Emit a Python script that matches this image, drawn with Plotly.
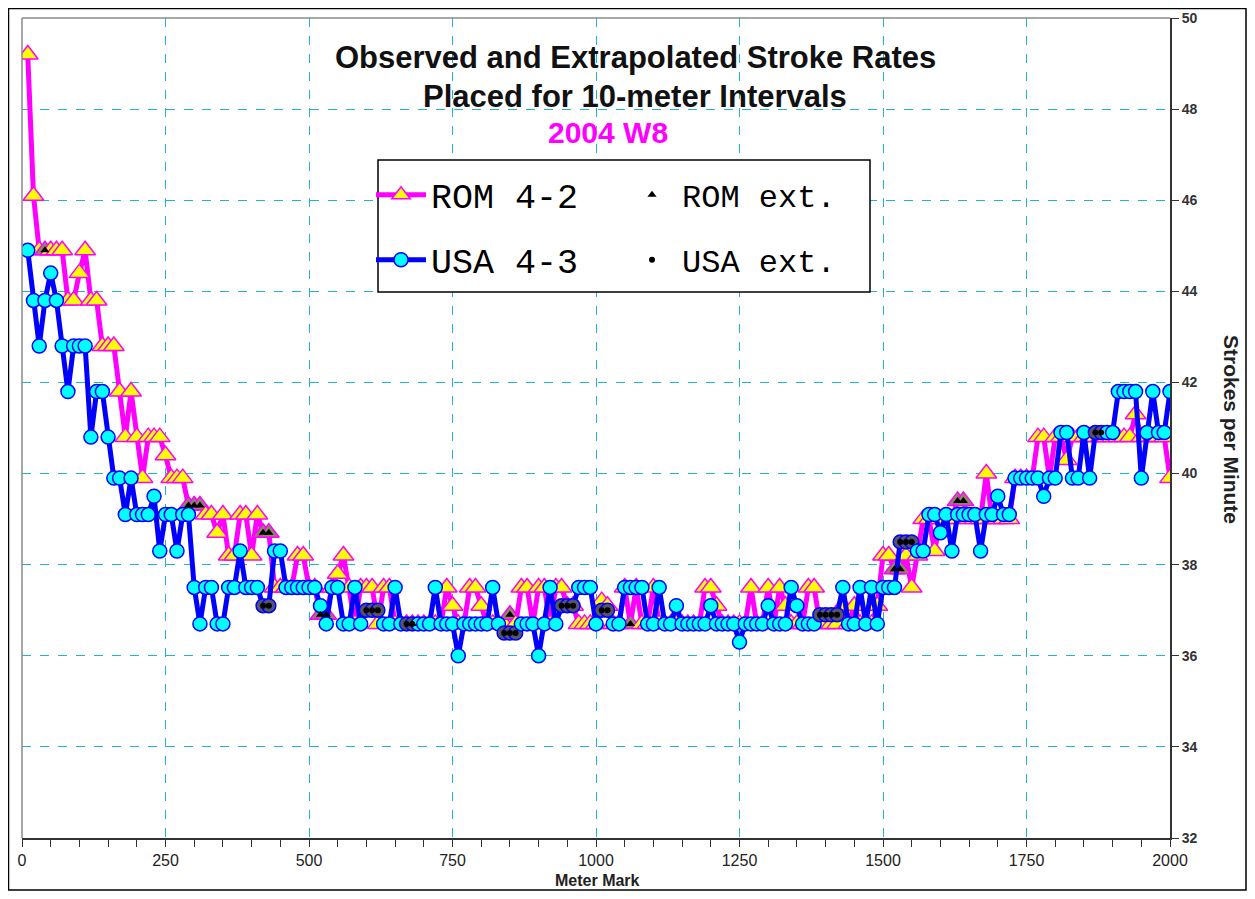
import plotly.graph_objects as go

# ---------------- data ----------------
meters = list(range(10, 2001, 10))

rom = [
    49.2, 46.1, 44.9, 44.9, 44.9, 44.9, 44.9, 43.8, 43.8, 44.4,
    44.9, 43.8, 43.8, 42.8, 42.8, 42.8, 41.8, 40.8, 41.8, 40.8,
    39.9, 40.8, 40.8, 40.8, 40.4, 39.9, 39.9, 39.9, 39.3, 39.3,
    39.3, 39.1, 39.1, 38.7, 39.1, 38.2, 38.2, 39.1, 39.1, 38.2,
    39.1, 38.7, 38.7, 37.5, 37.5, 37.5, 37.5, 38.2, 38.2, 37.5,
    37.5, 36.9, 36.9, 37.5, 37.8, 38.2, 37.5, 36.7, 37.5, 37.5,
    37.5, 36.7, 37.5, 37.5, 36.7, 36.7, 36.7, 36.7, 36.7, 36.7,
    36.7, 36.7, 36.7, 37.5, 37.1, 36.7, 36.7, 37.5, 37.5, 37.1,
    36.7, 36.7, 36.7, 36.7, 36.9, 36.7, 37.5, 37.5, 36.7, 37.5,
    37.5, 36.7, 37.5, 37.5, 37.1, 37.1, 36.7, 36.7, 36.7, 36.7,
    37.2, 37.1, 36.7, 36.7, 37.5, 36.7, 37.5, 36.7, 36.7, 37.5,
    36.7, 36.7, 36.7, 36.7, 36.7, 36.7, 36.7, 36.7, 37.5, 37.5,
    37.1, 36.7, 36.7, 36.7, 36.7, 36.7, 37.5, 36.7, 36.7, 37.5,
    36.7, 37.5, 37.1, 36.7, 36.7, 36.7, 37.5, 37.5, 36.7, 36.7,
    36.7, 36.7, 37.1, 36.7, 37.1, 36.7, 36.7, 36.7, 37.1, 38.2,
    38.2, 37.9, 37.9, 38.2, 37.5, 38.2, 39.0, 39.0, 38.3, 39.0,
    39.0, 39.0, 39.4, 39.4, 39.0, 39.0, 39.0, 40.0, 39.0, 39.0,
    39.0, 39.0, 39.9, 39.9, 39.9, 39.9, 40.8, 40.8, 39.9, 40.8,
    40.8, 40.3, 40.8, 40.8, 40.8, 40.8, 40.8, 40.8, 40.8, 40.8,
    40.8, 40.8, 40.8, 41.3, 40.8, 40.8, 40.8, 40.8, 40.8, 39.9,
]

usa = [
    44.9, 43.8, 42.8, 43.8, 44.4, 43.8, 42.8, 41.8, 42.8, 42.8,
    42.8, 40.8, 41.8, 41.8, 40.8, 39.9, 39.9, 39.1, 39.9, 39.1,
    39.1, 39.1, 39.5, 38.3, 39.1, 39.1, 38.3, 39.1, 39.1, 37.5,
    36.7, 37.5, 37.5, 36.7, 36.7, 37.5, 37.5, 38.3, 37.5, 37.5,
    37.5, 37.1, 37.1, 38.3, 38.3, 37.5, 37.5, 37.5, 37.5, 37.5,
    37.5, 37.1, 36.7, 37.5, 37.5, 36.7, 36.7, 37.5, 36.7, 37.0,
    37.0, 37.0, 36.7, 36.7, 37.5, 36.7, 36.7, 36.7, 36.7, 36.7,
    36.7, 37.5, 36.7, 36.7, 36.7, 36.0, 36.7, 36.7, 36.7, 36.7,
    36.7, 37.5, 36.7, 36.5, 36.5, 36.5, 36.7, 36.7, 36.7, 36.0,
    36.7, 37.5, 36.7, 37.1, 37.1, 37.1, 37.5, 37.5, 37.5, 36.7,
    37.0, 37.0, 36.7, 36.7, 37.5, 37.5, 37.5, 37.5, 36.7, 36.7,
    37.5, 36.7, 36.7, 37.1, 36.7, 36.7, 36.7, 36.7, 36.7, 37.1,
    36.7, 36.7, 36.7, 36.7, 36.3, 36.7, 36.7, 36.7, 36.7, 37.1,
    36.7, 36.7, 36.7, 37.5, 37.1, 36.7, 36.7, 36.7, 36.9, 36.9,
    36.9, 36.9, 37.5, 36.7, 36.7, 37.5, 36.7, 37.5, 36.7, 37.5,
    37.5, 37.5, 38.5, 38.5, 38.5, 38.3, 38.3, 39.1, 39.1, 38.7,
    39.1, 38.3, 39.1, 39.1, 39.1, 39.1, 38.3, 39.1, 39.1, 39.5,
    39.1, 39.1, 39.9, 39.9, 39.9, 39.9, 39.9, 39.5, 39.9, 39.9,
    40.9, 40.9, 39.9, 39.9, 40.9, 39.9, 40.9, 40.9, 40.9, 40.9,
    41.8, 41.8, 41.8, 41.8, 39.9, 40.9, 41.8, 40.9, 40.9, 41.8,
]

rom_ext_m = [40, 290, 300, 310, 420, 430, 520, 530, 680, 850, 1060, 1520, 1530, 1630, 1640]
usa_ext_m = [420, 430, 600, 610, 620, 670, 680, 840, 850, 860, 940, 950, 960,
             1010, 1020, 1390, 1400, 1410, 1420, 1530, 1540, 1550, 1870, 1880]

x_ticks = [0, 250, 500, 750, 1000, 1250, 1500, 1750, 2000]
y_ticks = [32, 34, 36, 38, 40, 42, 44, 46, 48, 50]

title_lines = ["Observed and Extrapolated Stroke Rates", "Placed for 10-meter Intervals"]
subtitle = "2004 W8"

# ---------------- layout helpers (screen pixels -> paper) ----------------
OFF = 8                      # page body margin
W, H = 1239, 883
L, T = 22 - OFF, 18 - OFF
R = W - (1170 - OFF)
B = H - (838 - OFF)
PW, PH = W - L - R, H - T - B


def px(xs):
    return (xs - OFF - L) / PW


def py(ys):
    return 1 - (ys - OFF - T) / PH


rom_lookup = dict(zip(meters, rom))
usa_lookup = dict(zip(meters, usa))
rom_ext_y = [rom_lookup[m] for m in rom_ext_m]
usa_ext_y = [usa_lookup[m] for m in usa_ext_m]

rom_fill = ["#8a8a60" if m in rom_ext_m else "#FFFF00" for m in meters]
usa_fill = ["#555566" if m in usa_ext_m else "#00FFFF" for m in meters]

GRID = "#22B4C8"
MONO = "Liberation Mono, Courier New, monospace"
SANS = "Liberation Sans, Arial, sans-serif"
NARROW = "Liberation Sans Narrow, Arial Narrow, Liberation Sans, Arial, sans-serif"

fig = go.Figure()

fig.add_trace(go.Scatter(
    x=meters, y=rom, mode="lines+markers", name="ROM 4-2", legend="legend",
    line=dict(color="#FF00FF", width=5),
    marker=dict(symbol="triangle-up", size=18, color=rom_fill,
                line=dict(color="#FF00FF", width=1.5)),
))
fig.add_trace(go.Scatter(
    x=meters, y=usa, mode="lines+markers", name="USA 4-3", legend="legend2",
    line=dict(color="#0000FF", width=5),
    marker=dict(symbol="circle", size=14, color=usa_fill,
                line=dict(color="#0000FF", width=1.5)),
))
fig.add_trace(go.Scatter(
    x=rom_ext_m, y=rom_ext_y, mode="markers", name="ROM ext.", legend="legend3",
    marker=dict(symbol="triangle-up", size=8, color="black"),
))
fig.add_trace(go.Scatter(
    x=usa_ext_m, y=usa_ext_y, mode="markers", name="USA ext.", legend="legend4",
    marker=dict(symbol="circle", size=6, color="black"),
))

leg_common = dict(bgcolor="rgba(0,0,0,0)", borderwidth=0,
                  xanchor="left", yanchor="middle", itemwidth=50)
font_main = dict(family=MONO, size=35, color="black")
font_ext = dict(family=MONO, size=32, color="black")

fig.update_layout(
    width=W, height=H,
    margin=dict(l=L, r=R, t=T, b=B, pad=0, autoexpand=False),
    paper_bgcolor="white", plot_bgcolor="white",
    legend=dict(x=px(371), y=py(195), font=font_main, **leg_common),
    legend2=dict(x=px(371), y=py(260), font=font_main, **leg_common),
    legend3=dict(x=px(622), y=py(195), font=font_ext, **leg_common),
    legend4=dict(x=px(622), y=py(260), font=font_ext, **leg_common),
    xaxis=dict(
        range=[0, 2000], tickvals=x_ticks, ticktext=[str(v) for v in x_ticks],
        showgrid=True, gridcolor=GRID, griddash="dash", gridwidth=1,
        ticks="outside", ticklen=7, tickcolor="#333",
        minor=dict(dtick=50, ticks="outside", ticklen=7, tickcolor="#333", showgrid=False),
        showline=True, linecolor="#333", linewidth=2,
        tickfont=dict(family=NARROW, size=16, color="#222"),
        zeroline=False, automargin=False,
    ),
    yaxis=dict(
        range=[32, 50], tickvals=y_ticks, side="right",
        showgrid=True, gridcolor=GRID, griddash="dash", gridwidth=1,
        ticks="outside", ticklen=7, tickcolor="#333",
        showline=True, linecolor="#333", linewidth=2,
        tickfont=dict(family=SANS, size=14, color="#333", weight="bold"),
        zeroline=False, automargin=False,
    ),
    showlegend=True,
)

# legend box
fig.add_shape(type="rect", xref="paper", yref="paper",
              x0=px(378), x1=px(870), y0=py(292), y1=py(160),
              fillcolor="white", line=dict(color="black", width=1.5), layer="above")
# gray plot frame (left and top)
fig.add_shape(type="line", xref="paper", yref="paper", x0=0, x1=0, y0=0, y1=1,
              line=dict(color="#8a8a8a", width=1.5))
fig.add_shape(type="line", xref="paper", yref="paper", x0=0, x1=1, y0=1, y1=1,
              line=dict(color="#8a8a8a", width=1.5))
# outer chart border
fig.add_shape(type="rect", xref="paper", yref="paper",
              x0=px(OFF + 0.5), x1=px(OFF + W - 1), y0=py(OFF + H - 1), y1=py(OFF + 0.5),
              line=dict(color="black", width=1.5), layer="above")

ann = dict(xref="paper", yref="paper", showarrow=False, xanchor="center", yanchor="middle")
fig.add_annotation(text="<b>" + title_lines[0] + "</b>", x=px(635), y=py(57),
                   font=dict(family=SANS, size=31, color="#111"), **ann)
fig.add_annotation(text="<b>" + title_lines[1] + "</b>", x=px(635), y=py(97),
                   font=dict(family=SANS, size=31, color="#111"), **ann)
fig.add_annotation(text="<b>" + subtitle + "</b>", x=px(608), y=py(132),
                   font=dict(family=SANS, size=30, color="#FF00FF"), **ann)
fig.add_annotation(text="<b>Strokes per Minute</b>", x=px(1232), y=py(430), textangle=90,
                   font=dict(family=NARROW, size=21, color="#222"), **ann)
fig.add_annotation(text="<b>Meter Mark</b>", x=px(597), y=py(880),
                   font=dict(family=NARROW, size=16, color="#222"), **ann)

fig.write_html("out.html")
